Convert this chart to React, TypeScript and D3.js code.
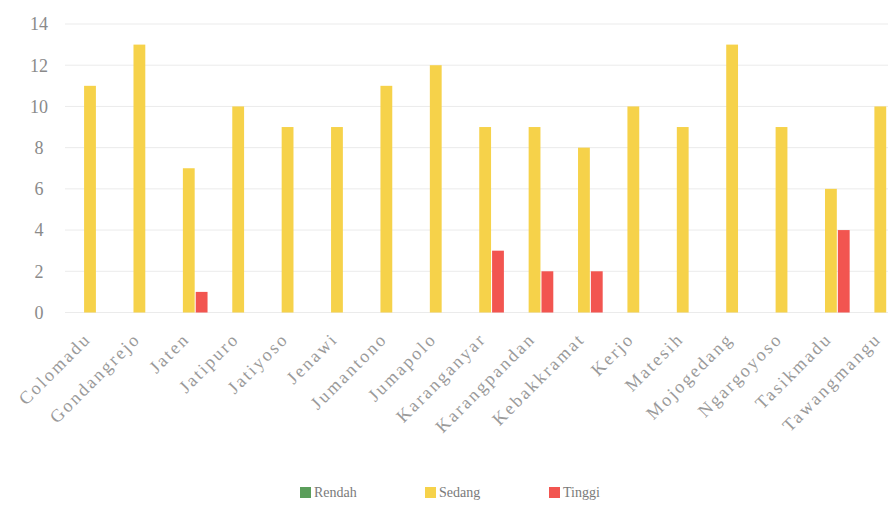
import React from "react";
import * as d3 from "d3";

const categories = [
  "Colomadu", "Gondangrejo", "Jaten", "Jatipuro", "Jatiyoso", "Jenawi",
  "Jumantono", "Jumapolo", "Karanganyar", "Karangpandan", "Kebakkramat",
  "Kerjo", "Matesih", "Mojogedang", "Ngargoyoso", "Tasikmadu", "Tawangmangu",
];
const seriesNames = ["Rendah", "Sedang", "Tinggi"];
const rendah = [0, 0, 0, 0, 0, 0, 0, 0, 0, 0, 0, 0, 0, 0, 0, 0, 0];
const sedang = [11, 13, 7, 10, 9, 9, 11, 12, 9, 9, 8, 10, 9, 13, 9, 6, 10];
const tinggi = [0, 0, 1, 0, 0, 0, 0, 0, 3, 2, 2, 0, 0, 0, 0, 4, 0];
const yTicks = [0, 2, 4, 6, 8, 10, 12, 14];
const colors = ["#5b9e5b", "#f6d24a", "#f25550"];

const W = 888;
const H = 509;

export default function App() {
  const values = [rendah, sedang, tinggi];
  const x0 = d3.scaleBand<string>().domain(categories).range([65.3, 905]).padding(0);
  const bw = x0.bandwidth();
  const inner = 37.5;
  const x1 = d3
    .scaleBand<string>()
    .domain(seriesNames)
    .range([(bw - inner) / 2, (bw + inner) / 2])
    .paddingInner(0.08)
    .paddingOuter(0);
  const y = d3.scaleLinear().domain([0, 14]).range([312.5, 24]);
  const font = "'Liberation Serif', 'DejaVu Serif', serif";

  return (
    <svg
      width={W}
      height={H}
      style={{ position: "absolute", left: 0, top: 0, display: "block", background: "#fff" }}
    >
      {yTicks.map((t) => (
        <g key={t}>
          <line x1={65} x2={W} y1={y(t)} y2={y(t)} stroke="#ebebeb" strokeWidth={1} />
          <text
            x={39}
            y={y(t)}
            dy="0.35em"
            textAnchor="middle"
            fontFamily={font}
            fontSize={18}
            fill="#8a8a8a"
          >
            {t}
          </text>
        </g>
      ))}
      {categories.map((c, i) => (
        <g key={c} transform={`translate(${x0(c)},0)`}>
          {seriesNames.map((s, k) => {
            const v = values[k][i];
            if (!v) return null;
            return (
              <rect
                key={s}
                x={x1(s)}
                width={x1.bandwidth()}
                y={y(v)}
                height={y(0) - y(v)}
                fill={colors[k]}
              />
            );
          })}
        </g>
      ))}
      {categories.map((c) => {
        const cx = (x0(c) as number) + bw / 2 + 2;
        const cy = 340;
        return (
          <text
            key={c}
            transform={`translate(${cx},${cy}) rotate(-45)`}
            textAnchor="end"
            fontFamily={font}
            fontSize={18}
            letterSpacing={2.3}
            fill="#9a9a9a"
          >
            {c}
          </text>
        );
      })}
      {seriesNames.map((s, k) => {
        const lx = [300, 425, 549][k];
        return (
          <g key={s} transform={`translate(${lx},487)`}>
            <rect width={11} height={11} fill={colors[k]} />
            <text x={14} y={10} fontFamily={font} fontSize={14} fill="#7a7a7a">
              {s}
            </text>
          </g>
        );
      })}
    </svg>
  );
}
